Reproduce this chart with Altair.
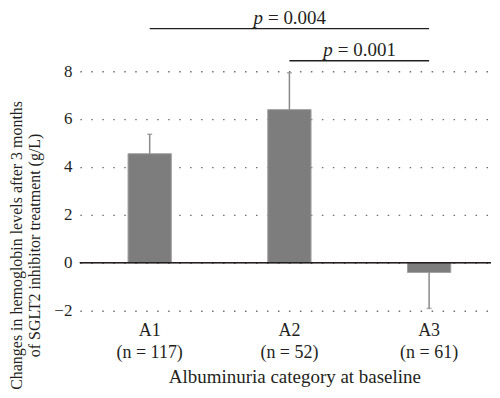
import altair as alt
import pandas as pd

# ---- data ----
categories = ["A1", "A2", "A3"]
n_patients = [117, 52, 61]
mean_change = [4.55, 6.39, -0.41]
sem_change = [0.81, 1.54, 1.50]

bracket_from = ["A1", "A2"]
bracket_to = ["A3", "A3"]
bracket_level = [9.77, 8.43]
bracket_p = ["0.004", "0.001"]
bracket_text_at = ["A2", "A2"]

y_ticks = [-2, 0, 2, 4, 6, 8]

# ---- tables ----
labels = [f"{c}\n(n = {n})" for c, n in zip(categories, n_patients)]
lab = dict(zip(categories, labels))
df = pd.DataFrame({"cat": labels, "mean": mean_change, "sem": sem_change})
df["err_end"] = [m + s if m >= 0 else m - s for m, s in zip(mean_change, sem_change)]

br = pd.DataFrame({
    "x1": [lab[c] for c in bracket_from],
    "x2": [lab[c] for c in bracket_to],
    "xt": [lab[c] for c in bracket_text_at],
    "y": bracket_level,
    "p": ["= " + p for p in bracket_p],
})

FONT = "Liberation Serif"
INK = "#231f20"
W, H = 412, 309
YMIN, YMAX = -2.3, 10.575
STEP = 140

xscale = alt.Scale(domain=labels, paddingInner=0.69, paddingOuter=0.3164, align=0.545)
yscale = alt.Scale(domain=[YMIN, YMAX], nice=False, zero=False)

x_axis = alt.Axis(
    title="Albuminuria category at baseline",
    labelExpr="split(datum.label, '\\n')",
    domain=False, ticks=False, grid=False, labelAngle=0,
    labelFont=FONT, labelFontSize=18, labelColor=INK, labelLineHeight=22,
    labelPadding=3.5,
    titleFont=FONT, titleFontSize=19, titleFontWeight="normal", titleColor=INK,
    titlePadding=6, titleX=215,
)
y_axis = alt.Axis(
    title=["Changes in hemoglobin levels after 3 months",
           "of SGLT2 inhibitor treatment (g/L)"],
    values=y_ticks, domain=False, ticks=False,
    grid=True, gridDash=[1.5, 9.5], gridColor="#6f6f6f", gridWidth=1.3,
    labelFont=FONT, labelFontSize=17, labelColor=INK, labelPadding=8,
    titleFont=FONT, titleFontSize=16, titleFontWeight="normal", titleColor=INK,
    titleLineHeight=18, titlePadding=11, titleY=236,
)

base = alt.Chart(df)
X = alt.X("cat:N", scale=xscale, axis=x_axis, sort=labels)

bars = base.mark_bar(color="#7d7d7d", stroke="#a3a3a3", strokeWidth=1).encode(
    x=X,
    y=alt.Y("mean:Q", scale=yscale, axis=y_axis),
    y2=alt.datum(0),
)
err = base.mark_rule(color="#8a8a8a", strokeWidth=1.5).encode(
    x=alt.X("cat:N", sort=labels), y="mean:Q", y2="err_end:Q")
cap = base.mark_tick(color="#8a8a8a", size=5, thickness=1.5).encode(
    x=alt.X("cat:N", sort=labels), y="err_end:Q")
zero = alt.Chart(df).mark_rule(color=INK, strokeWidth=1.3).encode(y=alt.datum(0))

brackets = alt.Chart(br).mark_rule(color=INK, strokeWidth=1.3).encode(
    x=alt.X("x1:N", sort=labels), x2="x2:N", y="y:Q")

texts = []
shifts = [0, STEP / 2]
for i, sh in enumerate(shifts):
    row = alt.Chart(br.iloc[[i]])
    texts.append(row.mark_text(font=FONT, fontSize=19, fontStyle="italic", color=INK,
                               align="left", baseline="alphabetic", dx=sh - 36, dy=-5)
                 .encode(x=alt.X("xt:N", sort=labels), y="y:Q", text=alt.value("p")))
    texts.append(row.mark_text(font=FONT, fontSize=19, color=INK,
                               align="left", baseline="alphabetic", dx=sh - 21.5, dy=-5)
                 .encode(x=alt.X("xt:N", sort=labels), y="y:Q", text="p:N"))

chart = alt.layer(bars, err, cap, zero, brackets, *texts).properties(
    width=W, height=H, padding=0
).configure_view(stroke=None)

chart.save("out.html", embed_options={"renderer": "svg", "actions": False})
